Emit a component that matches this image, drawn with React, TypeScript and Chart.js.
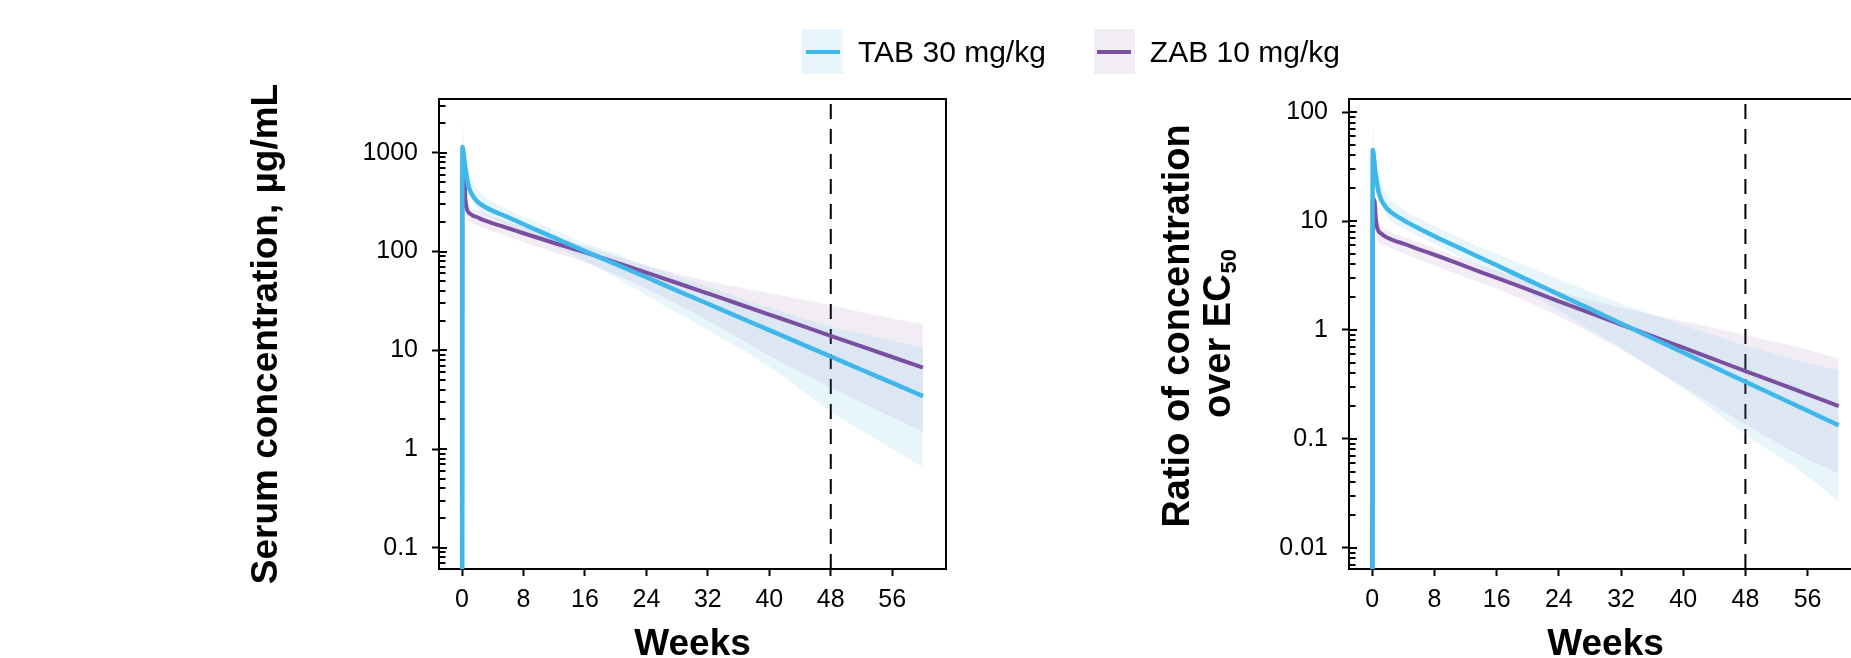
import React, { useEffect, useRef } from "react";
import { Chart, registerables } from "chart.js";

Chart.register(...registerables);

const FONT = '"Liberation Sans", Arial, Helvetica, sans-serif';
Chart.defaults.font.family = FONT;
Chart.defaults.color = "#000";

// ---------- labels & ticks ----------
const seriesLabels = ["TAB 30 mg/kg", "ZAB 10 mg/kg"];
const weekTicks = [0, 8, 16, 24, 32, 40, 48, 56];
const serumTicks = [0.1, 1, 10, 100, 1000];
const ratioTicks = [0.01, 0.1, 1, 10, 100];
const referenceWeek = 48;
const xTitle = "Weeks";
const serumTitle = "Serum concentration, µg/mL";
const ratioTitleLine1 = "Ratio of concentration";
const ratioTitleLine2 = "over EC";
const ratioTitleSub = "50";

// ---------- median lines ----------
const tabWeeks = [0, 0.05, 0.4, 0.85, 1.7, 2.5, 4, 6, 8, 12, 16, 20, 24, 28, 32, 36, 40, 44, 48, 52, 56, 60];
const tabSerum = [0.001, 1140, 720, 455, 340, 298, 258, 222, 189, 138, 101, 74.5, 54.8, 40.2, 29.6, 21.7, 16, 11.75, 8.64, 6.35, 4.67, 3.43];
const tabRatio = [0.0001, 45, 28, 18, 13.5, 11.9, 10.2, 8.55, 7.25, 5.33, 3.92, 2.88, 2.12, 1.56, 1.145, 0.842, 0.619, 0.455, 0.334, 0.246, 0.181, 0.133];

const zabWeeks = [0, 0.05, 0.3, 0.45, 0.6, 1.2, 2, 3, 4, 6, 8, 12, 16, 20, 24, 28, 32, 36, 40, 44, 48, 52, 56, 60];
const zabSerum = [0.001, 530, 500, 330, 275, 237, 222, 205, 193, 172, 153, 122, 98, 77.5, 61, 48, 37.6, 29.4, 23, 18, 14, 10.95, 8.55, 6.67];
const zabRatio = [0.0001, 16, 15, 10.5, 8.8, 7.6, 7.0, 6.55, 6.2, 5.5, 4.9, 3.84, 3.0, 2.35, 1.83, 1.43, 1.12, 0.877, 0.686, 0.536, 0.419, 0.328, 0.256, 0.2];

// ---------- confidence bands ----------
const bandWeeks = [0.05, 0.3, 0.6, 1, 2, 4, 8, 12, 16, 20, 24, 32, 40, 48, 56, 60];
const tabSerumUpper = [2300, 1250, 850, 620, 430, 320, 225, 165, 122, 95, 72, 44, 27, 17.5, 12.5, 10.7];
const tabSerumLower = [900, 700, 500, 380, 270, 215, 160, 113, 80, 55, 36, 16, 6.8, 2.4, 1.0, 0.65];
const zabSerumUpper = [650, 560, 340, 290, 262, 228, 178, 140, 113, 90, 72, 50, 38, 28.6, 21, 18.3];
const zabSerumLower = [420, 400, 225, 200, 185, 160, 124, 98, 78, 58, 42, 20, 8.8, 4.2, 2.1, 1.5];

const tabRatioUpper = [85, 48, 32, 24, 17, 12.8, 9.0, 6.6, 5.0, 3.8, 2.9, 1.75, 1.1, 0.72, 0.5, 0.43];
const tabRatioLower = [35, 27, 20, 15, 10.8, 8.6, 6.2, 4.4, 3.1, 2.2, 1.5, 0.68, 0.29, 0.11, 0.045, 0.0265];
const zabRatioUpper = [20, 17.5, 11, 9.3, 8.2, 7.2, 5.6, 4.4, 3.5, 2.8, 2.25, 1.6, 1.2, 0.9, 0.66, 0.545];
const zabRatioLower = [13, 12.5, 7.0, 6.2, 5.8, 5.0, 3.9, 3.05, 2.4, 1.8, 1.33, 0.66, 0.3, 0.135, 0.065, 0.048];

// ---------- styles ----------
const BLUE = "#3FB7E9";
const PURPLE = "#7B4F9F";
const BLUE_BAND = "rgba(63,183,233,0.12)";
const PURPLE_BAND = "rgba(123,79,159,0.10)";

const pts = (xs: number[], ys: number[]) => xs.map((x, i) => ({ x, y: ys[i] }));

function buildDatasets(
  tabLine: number[], zabLine: number[],
  tabUp: number[], tabLo: number[], zabUp: number[], zabLo: number[]
) {
  const line = (label: string, data: any[], color: string, width: number) => ({
    label, data, borderColor: color, backgroundColor: color, borderWidth: width,
    pointRadius: 0, fill: false, cubicInterpolationMode: "monotone",
  });
  const band = (label: string, data: any[], fill: any, bg: string) => ({
    label, data, borderWidth: 0, borderColor: "rgba(0,0,0,0)", backgroundColor: bg,
    pointRadius: 0, fill, cubicInterpolationMode: "monotone",
  });
  return [
    line(seriesLabels[0], pts(tabWeeks, tabLine), BLUE, 4.5),
    line(seriesLabels[1], pts(zabWeeks, zabLine), PURPLE, 4),
    band(seriesLabels[0] + " upper", pts(bandWeeks, tabUp), "+1", BLUE_BAND),
    band(seriesLabels[0] + " lower", pts(bandWeeks, tabLo), false, BLUE_BAND),
    band(seriesLabels[1] + " upper", pts(bandWeeks, zabUp), "+1", PURPLE_BAND),
    band(seriesLabels[1] + " lower", pts(bandWeeks, zabLo), false, PURPLE_BAND),
  ];
}

// frame (top/right) + inner log ticks
const frameTicksPlugin = {
  id: "frameTicks",
  afterDatasetsDraw(chart: any) {
    const { ctx, chartArea: a, scales } = chart;
    const y = scales.y;
    ctx.save();
    ctx.strokeStyle = "#000";
    ctx.lineWidth = 2;
    ctx.beginPath();
    ctx.moveTo(a.left, a.top);
    ctx.lineTo(a.right, a.top);
    ctx.lineTo(a.right, a.bottom);
    ctx.stroke();
    const lo = Math.floor(Math.log10(y.min));
    const hi = Math.ceil(Math.log10(y.max));
    ctx.beginPath();
    for (let e = lo; e <= hi; e++) {
      for (let m = 1; m <= 9; m++) {
        const v = m * Math.pow(10, e);
        if (v < y.min || v > y.max) continue;
        const py = Math.round(y.getPixelForValue(v));
        ctx.moveTo(a.left, py);
        ctx.lineTo(a.left + (m === 1 ? 8 : 6.5), py);
      }
    }
    ctx.stroke();
    ctx.restore();
  },
};

const refLinePlugin = {
  id: "refLine",
  beforeDatasetsDraw(chart: any) {
    const { ctx, chartArea: a, scales } = chart;
    const x = scales.x.getPixelForValue(referenceWeek);
    ctx.save();
    ctx.strokeStyle = "#000";
    ctx.lineWidth = 2;
    ctx.setLineDash([15, 10]);
    ctx.beginPath();
    ctx.moveTo(x, a.bottom);
    ctx.lineTo(x, a.top);
    ctx.stroke();
    ctx.restore();
  },
};

const ratioTitlePlugin = {
  id: "ratioTitle",
  afterDraw(chart: any) {
    const { ctx, chartArea: a } = chart;
    const cy = (a.top + a.bottom) / 2;
    const big = `bold 38px ${FONT}`;
    const small = `bold 22px ${FONT}`;
    ctx.save();
    ctx.fillStyle = "#000";
    ctx.textBaseline = "middle";
    ctx.translate(a.left - 170, cy);
    ctx.rotate(-Math.PI / 2);
    ctx.font = big;
    ctx.textAlign = "center";
    ctx.fillText(ratioTitleLine1, 8, 0);
    const wMain = ctx.measureText(ratioTitleLine2).width;
    ctx.font = small;
    const wSub = ctx.measureText(ratioTitleSub).width;
    const start = -(wMain + wSub) / 2;
    ctx.textAlign = "left";
    ctx.font = big;
    ctx.fillText(ratioTitleLine2, start, 41);
    ctx.font = small;
    ctx.fillText(ratioTitleSub, start + wMain + 1, 41 + 10);
    ctx.restore();
  },
};

function makeOptions(p: {
  yMin: number; yMax: number; yTicks: number[]; yWidth: number; padRight: number; yTitle?: string;
}) {
  const tickFont = { family: FONT, size: 25 };
  const xTitleFont = { family: FONT, size: 37, weight: "bold" as const };
  const yTitleFont = { family: FONT, size: 37, weight: "bold" as const };
  return {
    responsive: false,
    animation: false,
    devicePixelRatio: 1,
    layout: { padding: { top: 99, left: 0, right: p.padRight, bottom: 0 } },
    plugins: { legend: { display: false }, tooltip: { enabled: false }, title: { display: false } },
    scales: {
      x: {
        type: "linear",
        min: -3,
        max: 63,
        afterBuildTicks: (s: any) => { s.ticks = weekTicks.map((v) => ({ value: v })); },
        afterFit: (s: any) => { s.height = 131; },
        grid: { drawOnChartArea: false, drawTicks: true, tickLength: 7, tickWidth: 2, tickColor: "#000", color: "#000" },
        border: { display: true, color: "#000", width: 2 },
        ticks: { color: "#000", font: tickFont, padding: 9, maxRotation: 0, autoSkip: false, callback: (v: any) => String(v) },
        title: { display: true, text: xTitle, color: "#000", font: xTitleFont, padding: { top: 0, bottom: 33 } },
      },
      y: {
        type: "logarithmic",
        min: p.yMin,
        max: p.yMax,
        afterBuildTicks: (s: any) => { s.ticks = p.yTicks.map((v) => ({ value: v })); },
        afterFit: (s: any) => { s.width = p.yWidth; },
        grid: { drawOnChartArea: false, drawTicks: true, tickLength: 7, tickWidth: 2, tickColor: "#000", color: "#000" },
        border: { display: true, color: "#000", width: 2 },
        ticks: { color: "#000", font: tickFont, padding: 14, autoSkip: false, callback: (v: any) => String(v) },
        title: p.yTitle
          ? { display: true, text: p.yTitle, color: "#000", font: yTitleFont, padding: { top: 245, bottom: 0 } }
          : { display: false },
      },
    },
  };
}

function Legend() {
  const items = [
    { label: seriesLabels[0], line: BLUE, box: BLUE_BAND },
    { label: seriesLabels[1], line: PURPLE, box: PURPLE_BAND },
  ];
  return (
    <div
      style={{
        position: "absolute", left: 802, top: 29, display: "flex", alignItems: "center",
        fontFamily: FONT, fontSize: 30, color: "#000", lineHeight: "45px", zIndex: 2,
      }}
    >
      {items.map((it, i) => (
        <div key={i} style={{ display: "flex", alignItems: "center", marginLeft: i ? 48 : 0 }}>
          <span
            style={{
              width: 41, height: 45, background: it.box, display: "flex",
              alignItems: "center", justifyContent: "center",
            }}
          >
            <span style={{ width: 34, height: 4, background: it.line, display: "block" }} />
          </span>
          <span style={{ marginLeft: 15, whiteSpace: "nowrap" }}>{it.label}</span>
        </div>
      ))}
    </div>
  );
}

export default function App() {
  const ref1 = useRef<HTMLCanvasElement>(null);
  const ref2 = useRef<HTMLCanvasElement>(null);

  useEffect(() => {
    const c1 = new Chart(ref1.current as HTMLCanvasElement, {
      type: "line",
      data: { datasets: buildDatasets(tabSerum, zabSerum, tabSerumUpper, tabSerumLower, zabSerumUpper, zabSerumLower) as any },
      options: makeOptions({ yMin: 0.061, yMax: 3500, yTicks: serumTicks, yWidth: 439, padRight: 54, yTitle: serumTitle }) as any,
      plugins: [frameTicksPlugin, refLinePlugin],
    });
    const c2 = new Chart(ref2.current as HTMLCanvasElement, {
      type: "line",
      data: { datasets: buildDatasets(tabRatio, zabRatio, tabRatioUpper, tabRatioLower, zabRatioUpper, zabRatioLower) as any },
      options: makeOptions({ yMin: 0.00637, yMax: 132, yTicks: ratioTicks, yWidth: 349, padRight: 38 }) as any,
      plugins: [frameTicksPlugin, refLinePlugin, ratioTitlePlugin],
    });
    return () => {
      c1.destroy();
      c2.destroy();
    };
  }, []);

  return (
    <div
      style={{
        position: "absolute", left: 0, top: 0, width: 1851, height: 658,
        overflow: "hidden", background: "#fff",
      }}
    >
      <div style={{ position: "absolute", left: 0, top: 0, width: 1000, height: 700 }}>
        <canvas ref={ref1} width={1000} height={700} style={{ width: 1000, height: 700, display: "block" }} />
      </div>
      <div style={{ position: "absolute", left: 1000, top: 0, width: 900, height: 700 }}>
        <canvas ref={ref2} width={900} height={700} style={{ width: 900, height: 700, display: "block" }} />
      </div>
      <Legend />
    </div>
  );
}
